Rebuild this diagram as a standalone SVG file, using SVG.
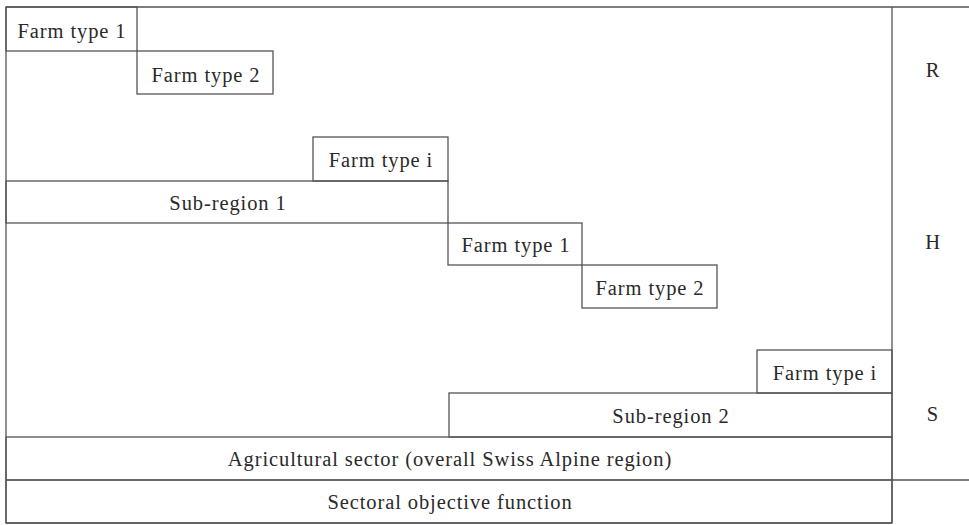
<svg xmlns="http://www.w3.org/2000/svg" width="969" height="525" viewBox="0 0 969 525">
<style>
.b{fill:none;stroke:#555;stroke-width:1.3}
.l{stroke:#555;stroke-width:1.3;fill:none}
.t{font-family:"Liberation Serif","Times New Roman",serif;font-size:20.5px;letter-spacing:0.9px;fill:#2a2a2a;text-anchor:middle}
</style>
<rect width="969" height="525" fill="#fff"/>
<g id="frame">
<line class="l" x1="6" y1="7" x2="969" y2="7"/>
<line class="l" x1="6" y1="7" x2="6" y2="523"/>
<line class="l" x1="892" y1="7" x2="892" y2="523"/>
<line class="l" x1="892" y1="480" x2="969" y2="480"/>
<line class="l" x1="6" y1="523" x2="892" y2="523"/>
</g>
<g id="farm-type-1-a"><rect class="b" x="6" y="7" width="131" height="44"/><text class="t" x="72" y="38">Farm type 1</text></g>
<g id="farm-type-2-a"><rect class="b" x="137" y="51" width="136" height="43"/><text class="t" x="206" y="82">Farm type 2</text></g>
<g id="farm-type-i-a"><rect class="b" x="313" y="137" width="135" height="44"/><text class="t" x="381" y="167">Farm type i</text></g>
<g id="sub-region-1"><rect class="b" x="6" y="181" width="442" height="42"/><text class="t" x="228" y="210">Sub-region 1</text></g>
<g id="farm-type-1-b"><rect class="b" x="448" y="223" width="134" height="42"/><text class="t" x="516" y="252">Farm type 1</text></g>
<g id="farm-type-2-b"><rect class="b" x="582" y="265" width="135" height="43"/><text class="t" x="650" y="295">Farm type 2</text></g>
<g id="farm-type-i-b"><rect class="b" x="757" y="350" width="135" height="43"/><text class="t" x="825" y="380">Farm type i</text></g>
<g id="sub-region-2"><rect class="b" x="449" y="393" width="443" height="44"/><text class="t" x="671" y="423">Sub-region 2</text></g>
<g id="agricultural-sector"><rect class="b" x="6" y="437" width="886" height="43"/><text class="t" x="450" y="466">Agricultural sector (overall Swiss Alpine region)</text></g>
<g id="sectoral-objective"><rect class="b" x="6" y="480" width="886" height="43"/><text class="t" x="450" y="509">Sectoral objective function</text></g>
<g id="label-R"><text class="t" x="933" y="77">R</text></g>
<g id="label-H"><text class="t" x="933" y="249">H</text></g>
<g id="label-S"><text class="t" x="933" y="421">S</text></g>
</svg>
